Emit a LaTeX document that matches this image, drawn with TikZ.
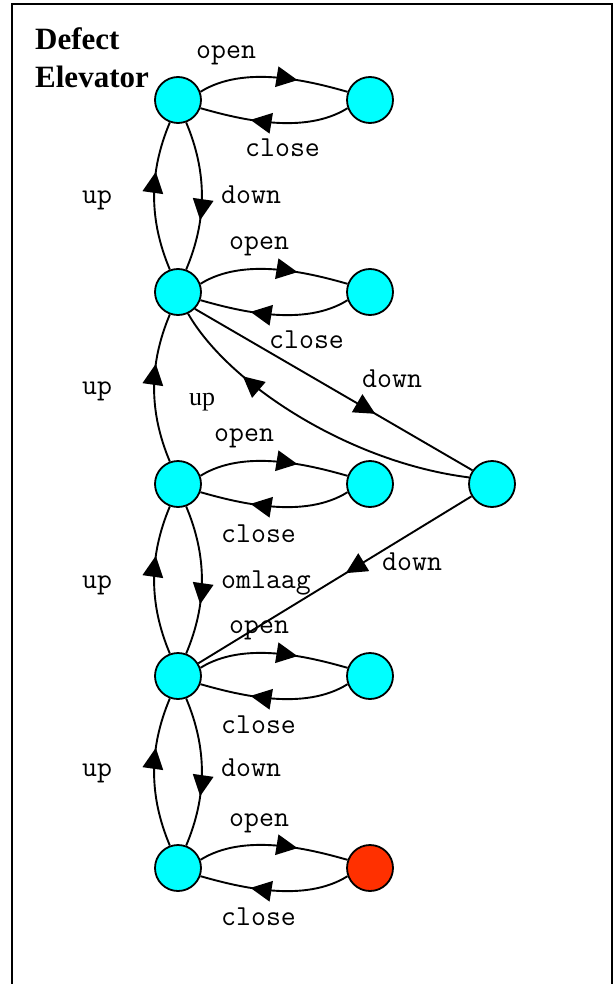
\documentclass[tikz,border=0pt]{standalone}
\usepackage{fontspec}
\setmainfont{Liberation Serif}
\usetikzlibrary{decorations.markings}
\definecolor{stcyan}{HTML}{00FFFF}
\definecolor{stred}{HTML}{FF3000}
\begin{document}
\begin{tikzpicture}[x=1pt,y=-1pt,
  st/.style={circle,draw,line width=1.8pt,fill=stcyan,minimum size=46pt,inner sep=0pt},
  edge/.style={line width=1.9pt},
  midarrow/.style={postaction={decorate},decoration={markings,mark=at position #1 with {\fill (0pt,0pt) -- (-21pt,10.5pt) -- (-21pt,-10.5pt) -- cycle;}}},
  lbl/.style={font=\ttfamily\fontsize{29}{33}\selectfont,anchor=base west,inner sep=0pt},
  ttl/.style={font=\bfseries\fontsize{31}{36}\selectfont,anchor=base west,inner sep=0pt},
  srf/.style={font=\fontsize{26}{30}\selectfont,anchor=base west,inner sep=0pt}]
\useasboundingbox (0,0) rectangle (614,984);
\draw[line width=1.8pt] (12,990) -- (12,4) -- (612,4) -- (612,990);

% title
\node[ttl] (ttl1) at (35,50) {Defect};
\node[ttl] (ttl2) at (35,88) {Elevator};

% states
\node[st] (l1) at (178,100) {};
\node[st] (r1) at (370,100) {};
\node[st] (l2) at (178,292) {};
\node[st] (r2) at (370,292) {};
\node[st] (l3) at (178,484) {};
\node[st] (r3) at (370,484) {};
\node[st] (f)  at (492,484) {};
\node[st] (l4) at (178,676) {};
\node[st] (r4) at (370,676) {};
\node[st] (l5) at (178,868) {};
\node[st,fill=stred] (r5) at (370,868) {};

% open / close
\foreach \k in {1,...,5}{
  \draw[edge,midarrow=0.66] (l\k.20) .. controls +(43,-27) and +(-40,-11.4) .. (r\k.160);
  \draw[edge,midarrow=0.66] (r\k.-160) .. controls +(-43,27) and +(40,11.4) .. (l\k.-20);
}

% up edges
\foreach \a/\b in {1/2,2/3,3/4,4/5}{
  \draw[edge,midarrow=0.66] (l\b.110) .. controls +(-21,-50) and +(-21,50) .. (l\a.250);
}
% down edges
\foreach \a/\b in {1/2,3/4,4/5}{
  \draw[edge,midarrow=0.66] (l\a.-70) .. controls +(21,50) and +(21,-50) .. (l\b.70);
}

% diagonal edges
\draw[edge,midarrow=0.65] (l2.-45) -- (f.145);
\draw[edge,midarrow=0.75] (f.164) .. controls +(-120,-15) and +(40,70) .. (l2.-65);
\draw[edge,midarrow=0.46] (f.211) -- (l4.32);

% labels row 1
\node[lbl] (o1) at (196,59) {open};
\node[lbl] (c1) at (245,157) {close};
\node[lbl] (u1) at (82,204) {up};
\node[lbl] (d1) at (221,204) {down};
% row 2
\node[lbl] (o2) at (229,249) {open};
\node[lbl] (c2) at (269,348) {close};
\node[lbl] (dd1) at (362,387) {down};
\node[srf] (um) at (189,405) {up};
\node[lbl] (u2) at (82,394) {up};
% row 3
\node[lbl] (o3) at (214,441) {open};
\node[lbl] (c3) at (221,542) {close};
\node[lbl] (u3) at (82,588) {up};
\node[lbl] (om) at (221,588) {omlaag};
\node[lbl] (dd2) at (382,570) {down};
% row 4
\node[lbl] (o4) at (229,633) {open};
\node[lbl] (c4) at (221,733) {close};
\node[lbl] (u4) at (82,776) {up};
\node[lbl] (d4) at (221,776) {down};
% row 5
\node[lbl] (o5) at (229,826) {open};
\node[lbl] (c5) at (221,925) {close};
\end{tikzpicture}
\end{document}
